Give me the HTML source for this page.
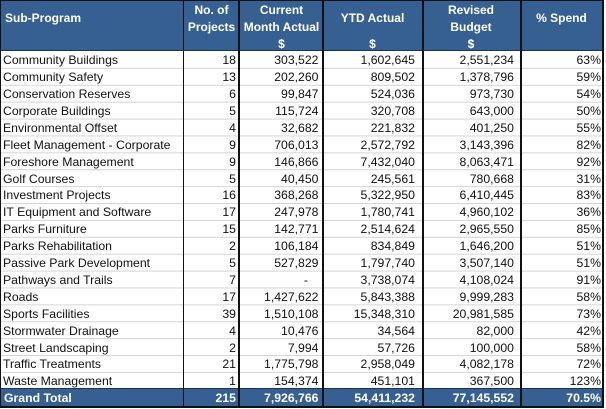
<!DOCTYPE html>
<html><head><meta charset="utf-8"><style>
html,body{margin:0;padding:0;background:#fff}
#w{position:relative;width:606px;height:409px;overflow:hidden;background:#fff;font-family:"Liberation Sans",Arial,sans-serif}
.bg{position:absolute;background:#366092}
.ln{position:absolute;background:#111}
.grid{position:absolute;left:1px;top:51.5px;width:602px;height:337px;background:linear-gradient(to bottom,rgba(0,0,0,0) 15.9px,#d4d4d4 15.9px);background-size:100% 16.9px}
.h{position:absolute;color:#fff;font-weight:bold;font-size:12px;line-height:16.8px;text-align:center;white-space:nowrap}
.r{position:absolute;left:0;width:606px;height:17px;font-size:12.25px;line-height:17px;color:#111}
.r div{position:absolute;top:0;white-space:nowrap}
.t{color:#fff;font-weight:bold}
.c0{left:3px}
.c1{right:370px}
.c2{right:287.5px}
.c3{right:191px}
.c4{right:92px}
.c5{right:5px}
</style></head><body><div id="w">
<div class="bg" style="left:0;top:0;width:604px;height:51px"></div>
<div class="grid"></div>
<div class="bg" style="left:0;top:389px;width:604px;height:17px"></div>

<div class="h" style="left:5px;top:10px;text-align:left">Sub-Program</div>
<div class="h" style="left:184px;top:2px;width:55px">No. of<br>Projects</div>
<div class="h" style="left:239px;top:2px;width:85px">Current<br>Month Actual<br>$</div>
<div class="h" style="left:323px;top:10px;width:99px">YTD Actual</div>
<div class="h" style="left:323px;top:35.6px;width:99px">$</div>
<div class="h" style="left:422px;top:2px;width:98px">Revised<br>Budget<br>$</div>
<div class="h" style="left:521px;top:10px;width:81px">% Spend</div>

<div class="r" style="top:52.25px"><div class="c0">Community Buildings</div><div class="c1">18</div><div class="c2">303,522</div><div class="c3">1,602,645</div><div class="c4">2,551,234</div><div class="c5">63%</div></div>
<div class="r" style="top:69.15px"><div class="c0">Community Safety</div><div class="c1">13</div><div class="c2">202,260</div><div class="c3">809,502</div><div class="c4">1,378,796</div><div class="c5">59%</div></div>
<div class="r" style="top:86.05px"><div class="c0">Conservation Reserves</div><div class="c1">6</div><div class="c2">99,847</div><div class="c3">524,036</div><div class="c4">973,730</div><div class="c5">54%</div></div>
<div class="r" style="top:102.95px"><div class="c0">Corporate Buildings</div><div class="c1">5</div><div class="c2">115,724</div><div class="c3">320,708</div><div class="c4">643,000</div><div class="c5">50%</div></div>
<div class="r" style="top:119.85px"><div class="c0">Environmental Offset</div><div class="c1">4</div><div class="c2">32,682</div><div class="c3">221,832</div><div class="c4">401,250</div><div class="c5">55%</div></div>
<div class="r" style="top:136.75px"><div class="c0">Fleet Management - Corporate</div><div class="c1">9</div><div class="c2">706,013</div><div class="c3">2,572,792</div><div class="c4">3,143,396</div><div class="c5">82%</div></div>
<div class="r" style="top:153.65px"><div class="c0">Foreshore Management</div><div class="c1">9</div><div class="c2">146,866</div><div class="c3">7,432,040</div><div class="c4">8,063,471</div><div class="c5">92%</div></div>
<div class="r" style="top:170.55px"><div class="c0">Golf Courses</div><div class="c1">5</div><div class="c2">40,450</div><div class="c3">245,561</div><div class="c4">780,668</div><div class="c5">31%</div></div>
<div class="r" style="top:187.45px"><div class="c0">Investment Projects</div><div class="c1">16</div><div class="c2">368,268</div><div class="c3">5,322,950</div><div class="c4">6,410,445</div><div class="c5">83%</div></div>
<div class="r" style="top:204.35px"><div class="c0">IT Equipment and Software</div><div class="c1">17</div><div class="c2">247,978</div><div class="c3">1,780,741</div><div class="c4">4,960,102</div><div class="c5">36%</div></div>
<div class="r" style="top:221.25px"><div class="c0">Parks Furniture</div><div class="c1">15</div><div class="c2">142,771</div><div class="c3">2,514,624</div><div class="c4">2,965,550</div><div class="c5">85%</div></div>
<div class="r" style="top:238.15px"><div class="c0">Parks Rehabilitation</div><div class="c1">2</div><div class="c2">106,184</div><div class="c3">834,849</div><div class="c4">1,646,200</div><div class="c5">51%</div></div>
<div class="r" style="top:255.05px"><div class="c0">Passive Park Development</div><div class="c1">5</div><div class="c2">527,829</div><div class="c3">1,797,740</div><div class="c4">3,507,140</div><div class="c5">51%</div></div>
<div class="r" style="top:271.95px"><div class="c0">Pathways and Trails</div><div class="c1">7</div><div class="c2" style="right:298px">-</div><div class="c3">3,738,074</div><div class="c4">4,108,024</div><div class="c5">91%</div></div>
<div class="r" style="top:288.85px"><div class="c0">Roads</div><div class="c1">17</div><div class="c2">1,427,622</div><div class="c3">5,843,388</div><div class="c4">9,999,283</div><div class="c5">58%</div></div>
<div class="r" style="top:305.75px"><div class="c0">Sports Facilities</div><div class="c1">39</div><div class="c2">1,510,108</div><div class="c3">15,348,310</div><div class="c4">20,981,585</div><div class="c5">73%</div></div>
<div class="r" style="top:322.65px"><div class="c0">Stormwater Drainage</div><div class="c1">4</div><div class="c2">10,476</div><div class="c3">34,564</div><div class="c4">82,000</div><div class="c5">42%</div></div>
<div class="r" style="top:339.55px"><div class="c0">Street Landscaping</div><div class="c1">2</div><div class="c2">7,994</div><div class="c3">57,726</div><div class="c4">100,000</div><div class="c5">58%</div></div>
<div class="r" style="top:356.45px"><div class="c0">Traffic Treatments</div><div class="c1">21</div><div class="c2">1,775,798</div><div class="c3">2,958,049</div><div class="c4">4,082,178</div><div class="c5">72%</div></div>
<div class="r" style="top:373.35px"><div class="c0">Waste Management</div><div class="c1">1</div><div class="c2">154,374</div><div class="c3">451,101</div><div class="c4">367,500</div><div class="c5">123%</div></div>
<div class="r t" style="top:390px"><div class="c0" style="left:4px">Grand Total</div><div class="c1">215</div><div class="c2">7,926,766</div><div class="c3">54,411,232</div><div class="c4">77,145,552</div><div class="c5">70.5%</div></div>

<div class="ln" style="left:0;top:0;width:604px;height:1px"></div>
<div class="ln" style="left:0;top:50px;width:604px;height:1px;background:#1e3350"></div>
<div class="ln" style="left:0;top:388px;width:604px;height:1px;background:#1e3350"></div>
<div class="ln" style="left:0;top:406px;width:604px;height:1.5px"></div>
<div class="ln" style="left:0;top:0;width:1px;height:407px"></div>
<div class="ln" style="left:183px;top:0;width:1.2px;height:407px"></div>
<div class="ln" style="left:237.5px;top:0;width:2px;height:407px"></div>
<div class="ln" style="left:322px;top:0;width:2px;height:407px"></div>
<div class="ln" style="left:421.5px;top:0;width:2px;height:407px"></div>
<div class="ln" style="left:519.5px;top:0;width:2px;height:407px"></div>
<div class="ln" style="left:602px;top:0;width:2px;height:407.5px"></div>
</div></body></html>
